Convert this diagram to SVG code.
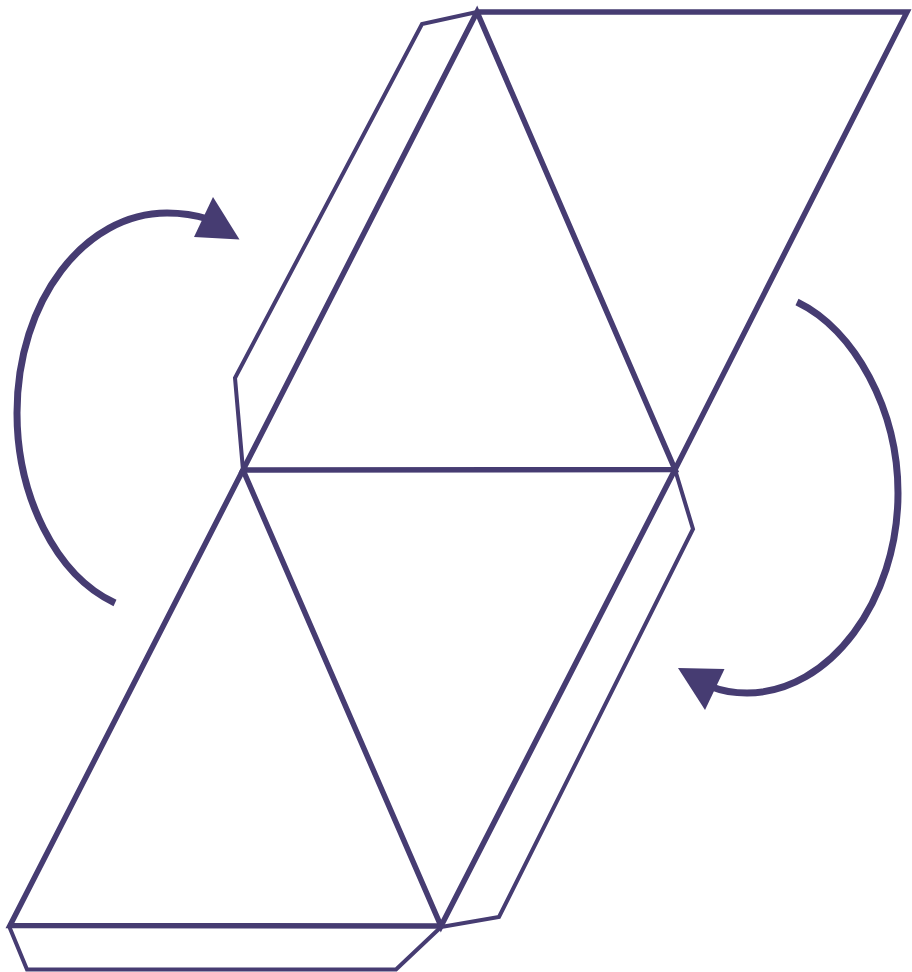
<svg xmlns="http://www.w3.org/2000/svg" width="912" height="972" viewBox="0 0 912 972">
<style>
.edge{fill:none;stroke:#463c72;stroke-width:5.500;stroke-linejoin:miter}
.flap{fill:none;stroke:#463c72;stroke-width:4;stroke-linejoin:miter}
.arc{fill:none;stroke:#463c72;stroke-width:7}
.head{fill:#463c72;stroke:none}
</style>
<rect width="912" height="972" fill="#ffffff"/>
<g id="net">
<path id="tri-top-right" class="edge" d="M477,12 L907,12 L675,469.500"/>
<path id="tri-top" class="edge" d="M477,12 L243,470 L675,469.500 Z"/>
<path id="tri-mid" class="edge" d="M243,470 L441,926 L675,469.500"/>
<path id="tri-bottom" class="edge" d="M243,470 L10,925.500 L441,926"/>
<path id="flap-left" class="flap" d="M477,12 L422,24 L235,378 L243,470"/>
<path id="flap-right" class="flap" d="M675,469.500 L693,529 L499,917 L441,927"/>
<path id="flap-bottom" class="flap" d="M9,926 L27,969.500 L396,969.500 L441,927"/>
</g>
<g id="connectors">
<g id="arrow-left">
<path class="arc" d="M115,603 C55,575 17,495 17,413 C17,300 85,213 167,213 C182,213 195,215 208,219"/>
<polygon class="head" points="213,197 239.500,239.500 194,237"/>
</g>
<g id="arrow-right">
<path class="arc" d="M797,302 C855,330 898,410 898,493 C898,600 830,693 747,693 C735,693 722,691 712,687"/>
<polygon class="head" points="678,668 724.500,669 705,710"/>
</g>
</g>
</svg>
